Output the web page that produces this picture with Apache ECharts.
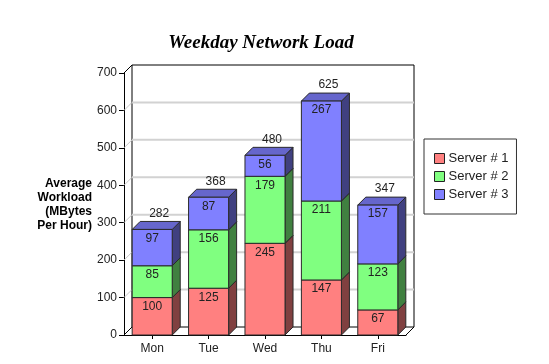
<!DOCTYPE html>
<html><head><meta charset="utf-8">
<script src="https://cdn.jsdelivr.net/npm/echarts@6/dist/echarts.min.js"></script>
<style>html,body{margin:0;padding:0;background:#fff}#c{width:549px;height:364px}</style>
</head><body><div id="c"></div>
<script>
const categories = ['Mon', 'Tue', 'Wed', 'Thu', 'Fri'];
const server1 = [100, 125, 245, 147, 67];
const server2 = [85, 156, 179, 211, 123];
const server3 = [97, 87, 56, 267, 157];
const seriesNames = ['Server # 1', 'Server # 2', 'Server # 3'];
const yTickValues = [0, 100, 200, 300, 400, 500, 600, 700];

const DEPTH = 8;
const faces = [
  { front: '#ff8080', side: '#804040', top: '#cc6666' },
  { front: '#80ff80', side: '#408040', top: '#66cc66' },
  { front: '#8080ff', side: '#404080', top: '#6666cc' }
];
const allSeries = [server1, server2, server3];
const totals = categories.map((c, i) => server1[i] + server2[i] + server3[i]);

function stackData(si) {
  return categories.map((c, i) => {
    let base = 0;
    for (let k = 0; k < si; k++) base += allSeries[k][i];
    const v = allSeries[si][i];
    return [i, base, base + v, v, totals[i]];
  });
}

function makeBarRender(si) {
  const f = faces[si];
  return function (params, api) {
    const base = api.value(1), top = api.value(2), val = api.value(3), total = api.value(4);
    const ci = api.value(0);
    const pb = api.coord([ci, base]);
    const pt = api.coord([ci, top]);
    const bw = api.size([1, 0])[0] * 0.71;
    const d = DEPTH;
    const x0 = pb[0] - bw / 2, x1 = pb[0] + bw / 2, yb = pb[1], yt = pt[1];
    const ln = { stroke: '#2a2a2a', lineWidth: 1 };
    const children = [
      { type: 'polygon', shape: { points: [[x1, yt], [x1 + d, yt - d], [x1 + d, yb - d], [x1, yb]] }, style: Object.assign({ fill: f.side }, ln) },
      { type: 'polygon', shape: { points: [[x0, yt], [x0 + d, yt - d], [x1 + d, yt - d], [x1, yt]] }, style: Object.assign({ fill: f.top }, ln) },
      { type: 'rect', shape: { x: x0, y: yt, width: bw, height: yb - yt }, style: Object.assign({ fill: f.front }, ln) },
      { type: 'text', z2: 10, style: { text: String(val), x: pb[0], y: yt + 9, textAlign: 'center', textVerticalAlign: 'middle', fill: '#222', font: '12px Arial, "Liberation Sans", sans-serif' } }
    ];
    if (si === 2) {
      children.push({ type: 'text', z2: 10, style: { text: String(total), x: pb[0] + d - 1, y: yt - d - 8, textAlign: 'center', textVerticalAlign: 'middle', fill: '#222', font: '12px Arial, "Liberation Sans", sans-serif' } });
    }
    return { type: 'group', children: children };
  };
}

function wallRender(params, api) {
  const cs = params.coordSys;
  const d = DEPTH;
  const x = cs.x, y = cs.y, w = cs.width, h = cs.height;
  const children = [];
  children.push({ type: 'rect', shape: { x: x + d, y: y - d, width: w, height: h }, style: { fill: '#fff', stroke: '#000', lineWidth: 1 } });
  yTickValues.forEach(v => {
    const py = api.coord([0, v])[1];
    const inner = v !== 0 && v !== 700;
    if (inner) {
      children.push({ type: 'line', shape: { x1: x + d, y1: py - d, x2: x + w + d, y2: py - d }, style: { stroke: '#d2d2d2', lineWidth: 2 } });
    }
    children.push({ type: 'line', shape: { x1: x, y1: py, x2: x + d, y2: py - d }, style: { stroke: inner ? '#c8c8c8' : '#000', lineWidth: 1 } });
  });
  children.push({ type: 'line', shape: { x1: x + w, y1: y + h, x2: x + w + d, y2: y + h - d }, style: { stroke: '#000', lineWidth: 1 } });
  return { type: 'group', children: children };
}

const chart = echarts.init(document.getElementById('c'), null, { renderer: 'canvas' });
const series = [{
  type: 'custom', name: 'walls', z: 1, silent: true, clip: false,
  renderItem: wallRender, data: [[0, 0]], encode: { x: 0, y: 1 }
}];
seriesNames.forEach((n, si) => {
  series.push({
    type: 'custom', name: n, z: 3, clip: false,
    itemStyle: { color: faces[si].front },
    renderItem: makeBarRender(si),
    data: stackData(si),
    encode: { x: 0, y: [1, 2] }
  });
});

chart.setOption({
  animation: false,
  backgroundColor: '#fff',
  grid: { left: 124, top: 73, width: 282, height: 262, containLabel: false },
  xAxis: {
    type: 'category', data: categories,
    axisLine: { show: true, lineStyle: { color: '#000', width: 1 } },
    axisTick: { show: true, alignWithLabel: true, length: 4, lineStyle: { color: '#000' } },
    axisLabel: { color: '#222', fontSize: 12, fontFamily: 'Arial, "Liberation Sans", sans-serif', margin: 8 },
    splitLine: { show: false }
  },
  yAxis: {
    type: 'value', min: 0, max: 700, interval: 100,
    axisLine: { show: true, lineStyle: { color: '#000', width: 1 } },
    axisTick: { show: true, length: 5, lineStyle: { color: '#000' } },
    axisLabel: { color: '#222', fontSize: 12, fontFamily: 'Arial, "Liberation Sans", sans-serif', margin: 7 },
    splitLine: { show: false }
  },
  legend: {
    data: seriesNames.map(n => ({ name: n, icon: 'rect' })),
    orient: 'vertical', left: 424, top: 139,
    padding: [13, 8, 13, 10], itemGap: 5, itemWidth: 10, itemHeight: 10,
    borderColor: '#333', borderWidth: 1, backgroundColor: '#fff',
    itemStyle: { borderColor: '#222', borderWidth: 1 },
    textStyle: { color: '#222', fontSize: 13, fontFamily: 'Arial, "Liberation Sans", sans-serif', padding: [0, 0, 0, -1] }
  },
  graphic: [
    { type: 'text', style: { text: 'Weekday Network Load', x: 261, y: 43, textAlign: 'center', textVerticalAlign: 'middle', fill: '#000', font: 'italic bold 19px "Liberation Serif", "Times New Roman", serif' } },
    { type: 'text', style: { text: 'Average\nWorkload\n(MBytes\nPer Hour)', x: 92, y: 177, textAlign: 'right', textVerticalAlign: 'top', lineHeight: 14, fill: '#000', font: 'bold 12px Arial, "Liberation Sans", sans-serif' } }
  ],
  series: series
});
</script></body></html>
